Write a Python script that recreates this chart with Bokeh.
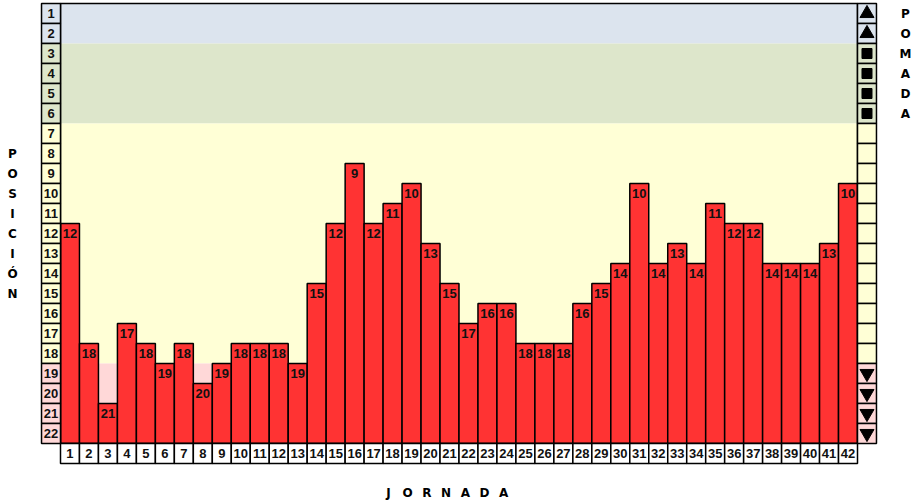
from bokeh.plotting import figure
from bokeh.models import Range1d, ColumnDataSource, Label
from bokeh.core.properties import value
from bokeh.embed import file_html
from bokeh.resources import INLINE

# ---- data ----
jornadas = list(range(1, 43))
posiciones = [12, 18, 21, 17, 18, 19, 18, 20, 19, 18, 18, 18, 19, 15, 12, 9, 12, 11, 10, 13, 15,
              17, 16, 16, 18, 18, 18, 16, 15, 14, 10, 14, 13, 14, 11, 12, 12, 14, 14, 14, 13, 10]
rangos = list(range(1, 23))
zona_inicio = [1, 3, 7, 19]
zona_fin = [2, 6, 18, 22]
zona_color = ["#dce4ee", "#dde6cb", "#ffffd6", "#ffd8d8"]
zona_marca = ["triangle", "square", None, "inverted_triangle"]
titulo_y = "POSICIÓN"
titulo_der = "POMADA"
titulo_x = "JORNADA"

# ---- layout ----
W, H = 912, 500
col_px = 797 / 42.0
row_px = 20.0
grid_left_px = 60.0
grid_top_px = 3.0
x0 = 0.5 - grid_left_px / col_px
x1 = x0 + W / col_px
y_top = 0.5 - grid_top_px / row_px
y_bot = y_top + H / row_px

NUM_FONT = "Liberation Sans"
LET_FONT = "DejaVu Sans"
NUM_SIZE = "13px"

p = figure(width=W, height=H, x_range=Range1d(x0, x1), y_range=Range1d(y_bot, y_top),
           output_backend="svg", toolbar_location=None, min_border=0,
           x_axis_location=None, y_axis_location=None)
p.xgrid.visible = False
p.ygrid.visible = False
p.outline_line_color = None
p.background_fill_color = "white"
p.border_fill_color = "white"

n = len(jornadas)
last = rangos[-1]

# background zones
p.quad(left=[0.5] * 4, right=[n + 0.5] * 4,
       top=[a - 0.5 for a in zona_inicio], bottom=[b + 0.5 for b in zona_fin],
       fill_color=zona_color, line_color=None)

def color_for(r):
    for a, b, c in zip(zona_inicio, zona_fin, zona_color):
        if a <= r <= b:
            return c
    return "white"

cell_colors = [color_for(r) for r in rangos]

# bars
src = ColumnDataSource(dict(x=jornadas, top=[v - 0.5 for v in posiciones],
                            ypos=posiciones, lab=[str(v) for v in posiciones]))
p.vbar(x="x", top="top", bottom=last + 0.5, width=1.0, source=src,
       fill_color="#ff3333", line_color="black", line_width=1.5)
p.text(x="x", y="ypos", text="lab", source=src, text_align="center", text_baseline="middle",
       text_font=value(NUM_FONT), text_font_style="bold", text_font_size=NUM_SIZE,
       text_color="#111111")

# grid outline
p.quad(left=[0.5], right=[n + 0.5], top=[0.5], bottom=[last + 0.5],
       fill_color=None, line_color="black", line_width=1.5)

# left rank cells
p.rect(x=[0] * len(rangos), y=rangos, width=1, height=1, fill_color=cell_colors,
       line_color="black", line_width=1.5)
p.text(x=[0] * len(rangos), y=rangos, text=[str(r) for r in rangos], text_align="center",
       text_baseline="middle", text_font=value(NUM_FONT), text_font_style="bold",
       text_font_size=NUM_SIZE, text_color="#111111")

# right cells with markers
p.rect(x=[n + 1] * len(rangos), y=rangos, width=1, height=1, fill_color=cell_colors,
       line_color="black", line_width=1.5)
for a, b, m in zip(zona_inicio, zona_fin, zona_marca):
    if m is None:
        continue
    ys = list(range(a, b + 1))
    size = 10 if m == "square" else 14
    p.scatter(x=[n + 1] * len(ys), y=ys, marker=m, size=size,
              fill_color="black", line_color="black")

# bottom jornada cells
p.rect(x=jornadas, y=[last + 1] * n, width=1, height=1, fill_color="white",
       line_color="black", line_width=1.5)
p.text(x=jornadas, y=[last + 1] * n, text=[str(j) for j in jornadas], text_align="center",
       text_baseline="middle", text_font=value(NUM_FONT), text_font_style="bold",
       text_font_size=NUM_SIZE, text_color="#111111")

# axis titles as stacked / spaced letters
for k, ch in enumerate(titulo_y):
    p.add_layout(Label(x=12, x_units="screen", y=8 + k, y_units="data", text=ch,
                       text_align="center", text_baseline="middle", text_font=LET_FONT,
                       text_font_style="bold", text_font_size="12px", text_color="black"))
for k, ch in enumerate(titulo_der):
    p.add_layout(Label(x=905, x_units="screen", y=1 + k, y_units="data", text=ch,
                       text_align="center", text_baseline="middle", text_font=LET_FONT,
                       text_font_style="bold", text_font_size="12px", text_color="black"))
for k, ch in enumerate(titulo_x):
    p.add_layout(Label(x=388 + 19.2 * k, x_units="screen", y=H - 492, y_units="screen", text=ch,
                       text_align="center", text_baseline="middle", text_font=LET_FONT,
                       text_font_style="bold", text_font_size="12px", text_color="black"))

open("out.html", "w").write(file_html(p, INLINE))
